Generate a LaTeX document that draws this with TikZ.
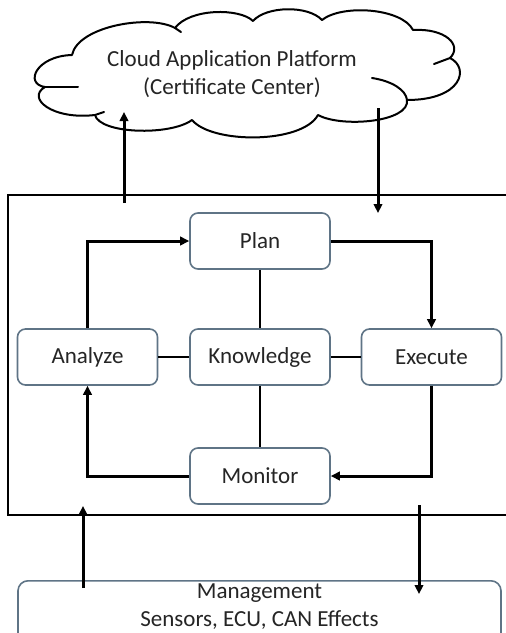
\documentclass[tikz,border=0pt]{standalone}
\usepackage{fontspec}
\setmainfont{Carlito}
\usetikzlibrary{arrows.meta}
\definecolor{boxedge}{HTML}{5F7486}
\definecolor{txt}{HTML}{252525}
\tikzset{
  label font/.style={font=\fontsize{23}{28.5}\selectfont, text=txt},
  stage/.style={draw=boxedge, line width=1.6pt, rounded corners=8pt, fill=white,
    minimum width=140pt, minimum height=56pt, inner sep=0pt, label font},
  flow/.style={line width=3pt, -{Triangle[length=9pt,width=8.5pt]}},
  link/.style={line width=2.6pt},
  cloudline/.style={line width=2pt, line cap=round, line join=round},
}
\begin{document}
\begin{tikzpicture}[x=1pt,y=-1pt]
\useasboundingbox (0,0) rectangle (506,633);
\fill[white] (0,0) rectangle (506,633);

% cloud outline
\draw[cloudline, fill=white]
  (45,87) .. controls (24,84) and (36,56) .. (72,55)
  .. controls (78,26) and (150,14) .. (175,28)
  .. controls (190,8) and (240,8) .. (253,21)
  .. controls (266,6) and (308,5) .. (322,20)
  .. controls (342,4) and (402,8) .. (413,30)
  .. controls (445,28) and (463,45) .. (450,58)
  .. controls (470,68) and (462,100) .. (407,100)
  .. controls (410,122) and (342,128) .. (318,115)
  .. controls (302,144) and (212,144) .. (192,120)
  .. controls (170,136) and (100,134) .. (95,115)
  .. controls (52,120) and (26,98) .. (45,87) -- cycle;
% inner strokes of the cloud
\draw[cloudline] (45,87) -- (78,87);
\draw[cloudline] (95,115) -- (104,112);
\draw[cloudline] (450,58) -- (434,64);
\draw[cloudline] (372,78) .. controls (392,81) and (406,90) .. (407,100);
\draw[cloudline] (175,28) -- (181,32);
\node[label font, align=center] (cloud) at (232,74)
  {Cloud Application Platform\\(Certificate Center)};

% system boundary (open to the right)
\draw[line width=2.2pt] (512,195) -- (8,195) -- (8,515) -- (512,515);

% MAPE-K stages
\node[stage] (plan) at (260,241) {Plan};
\node[stage] (know) at (260,357) {Knowledge};
\node[stage] (ana) at (87.5,357) {Analyze};
\node[stage] (exe) at (431.5,357) {Execute};
\node[stage] (mon) at (260,476) {Monitor};

% lower layer
\node[draw=boxedge, line width=1.6pt, rounded corners=10pt, minimum width=483pt,
  minimum height=64pt, inner sep=0pt, anchor=north] (mgmt) at (259.5,580) {};
\node[label font, align=center, inner sep=1pt] (mgmttext) at (259.5,606.5)
  {Management\\Sensors, ECU, CAN Effects};

% exchange with the cloud
\coordinate (upS) at (124,203);
\coordinate (upE) at (124,112);
\coordinate (dnS) at (378,108);
\coordinate (dnE) at (378,213);
\draw[flow] (upS) -- (upE);
\draw[flow] (dnS) -- (dnE);

% exchange with the lower layer
\coordinate (mupS) at (83,588);
\coordinate (mupE) at (83,506);
\coordinate (mdnS) at (419,505);
\coordinate (mdnE) at (419,594);
\draw[flow] (mupS) -- (mupE);
\draw[flow] (mdnS) -- (mdnE);

% control loop
\draw[flow] (ana.north) -- (ana.north |- plan.west) -- (plan.west);
\draw[flow] (plan.east) -- (exe.north |- plan.east) -- (exe.north);
\draw[flow] (exe.south) -- (exe.south |- mon.east) -- (mon.east);
\draw[flow] (mon.west) -- (ana.south |- mon.west) -- (ana.south);

% knowledge links
\draw[link] (plan) -- (know);
\draw[link] (know) -- (mon);
\draw[link] (know) -- (ana);
\draw[link] (know) -- (exe);
\end{tikzpicture}
\end{document}
